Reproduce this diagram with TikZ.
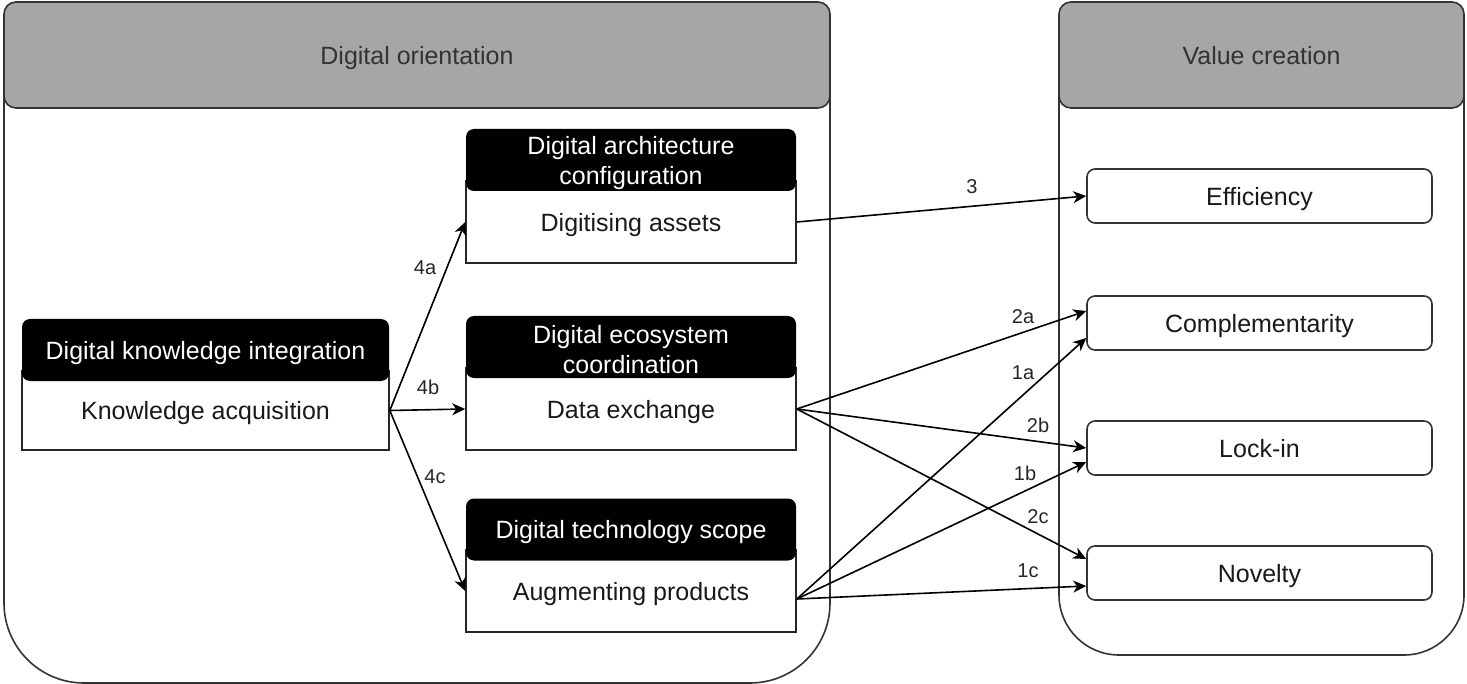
\documentclass[tikz,border=0pt]{standalone}
\usepackage{fontspec}
\setmainfont{Liberation Sans}
\usetikzlibrary{arrows.meta}
\definecolor{hdrgray}{HTML}{A6A6A6}
\definecolor{edgegray}{HTML}{333333}
\newcommand{\tallstrut}{\rule{0pt}{11.6pt}}
\begin{document}
\begin{tikzpicture}[x=0.5pt,y=-0.5pt,
  font=\fontsize{12.5}{15}\selectfont,
  oneline/.style={text height=9.1pt, text depth=0pt},
  lane/.style={draw=edgegray, line width=0.8pt},
  lanehead/.style={draw=edgegray, fill=hdrgray, line width=0.8pt, rounded corners=6pt,
    text=black!80, inner sep=0pt, minimum height=53pt, oneline},
  blackhead/.style={fill=black, text=white, rounded corners=4pt, inner sep=0pt,
    align=center, minimum height=31pt},
  bodybox/.style={draw=black!85, fill=white, line width=0.8pt, inner sep=0pt, text=black!90, oneline},
  valbox/.style={draw=black!80, fill=white, line width=0.8pt, rounded corners=4pt, inner sep=0pt,
    minimum width=172.5pt, minimum height=27pt, text=black!90, oneline},
  conn/.style={draw=black, line width=0.8pt, -{Stealth[length=6.5pt,width=6pt,inset=2pt]}},
  lbl/.style={font=\fontsize{10}{12}\selectfont, inner sep=0pt, text=black!85}
]
\useasboundingbox (0,0) rectangle (1467,684);

% lanes
\draw[lane, rounded corners=40pt] (4,60) -- (4,683) -- (830,683) -- (830,60);
\node[lanehead, minimum width=413pt] (orient) at (417,55) {Digital orientation};
\draw[lane, rounded corners=30pt] (1059,60) -- (1059,655) -- (1464,655) -- (1464,60);
\node[lanehead, minimum width=202.5pt] (value) at (1261.5,55) {Value creation};

% left boxes: bodies
\node[bodybox, minimum width=183.5pt, minimum height=39.5pt] (dki) at (205.5,410.5) {Knowledge acquisition};
\node[bodybox, minimum width=165pt, minimum height=41pt] (dac) at (631,222) {Digitising assets};
\node[bodybox, minimum width=165pt, minimum height=41pt] (dec) at (631,409) {Data exchange};
\node[bodybox, minimum width=165pt, minimum height=41pt] (dts) at (631,591) {Augmenting products};

% left boxes: headers
\node[blackhead, oneline, minimum width=183.5pt] (dkih) at (205.5,350) {Digital knowledge integration};
\node[blackhead, minimum width=165pt] (dach) at (631,160) {\tallstrut Digital architecture\\configuration};
\node[blackhead, minimum width=165pt] (dech) at (631,347) {\tallstrut Digital ecosystem\\coordination};
\node[blackhead, oneline, minimum width=165pt] (dtsh) at (631,529.5) {Digital technology scope};

% right boxes
\node[valbox] (eff) at (1259.5,196) {Efficiency};
\node[valbox] (comp) at (1259.5,323) {Complementarity};
\node[valbox] (lock) at (1259.5,448) {Lock-in};
\node[valbox] (nov) at (1259.5,573) {Novelty};

% connectors
\draw[conn] (dki.east) -- (dac.west);
\draw[conn] (dki.east) -- (dec.west);
\draw[conn] (dki.east) -- (dts.west);
\draw[conn] (dac.east) -- (eff.west);
\draw[conn] (dec.east) -- ([yshift=6pt]comp.west);
\draw[conn] (dec.east) -- (lock.west);
\draw[conn] (dec.east) -- ([yshift=7pt]nov.west);
\coordinate (dtsout) at ([yshift=-4pt]dts.east);
\draw[conn] (dtsout) -- ([yshift=-7.5pt]comp.west);
\draw[conn] (dtsout) -- ([yshift=-7pt]lock.west);
\draw[conn] (dtsout) -- ([yshift=-6.5pt]nov.west);

% labels
\node[lbl] (l4a) at (425,268) {4a};
\node[lbl] (l4b) at (428,387) {4b};
\node[lbl] (l4c) at (435,477) {4c};
\node[lbl] (l3) at (972,187) {3};
\node[lbl] (l2a) at (1023,317) {2a};
\node[lbl] (l1a) at (1023,373) {1a};
\node[lbl] (l2b) at (1038,425) {2b};
\node[lbl] (l1b) at (1025,473) {1b};
\node[lbl] (l2c) at (1038,517) {2c};
\node[lbl] (l1c) at (1028,571) {1c};
\end{tikzpicture}
\end{document}
